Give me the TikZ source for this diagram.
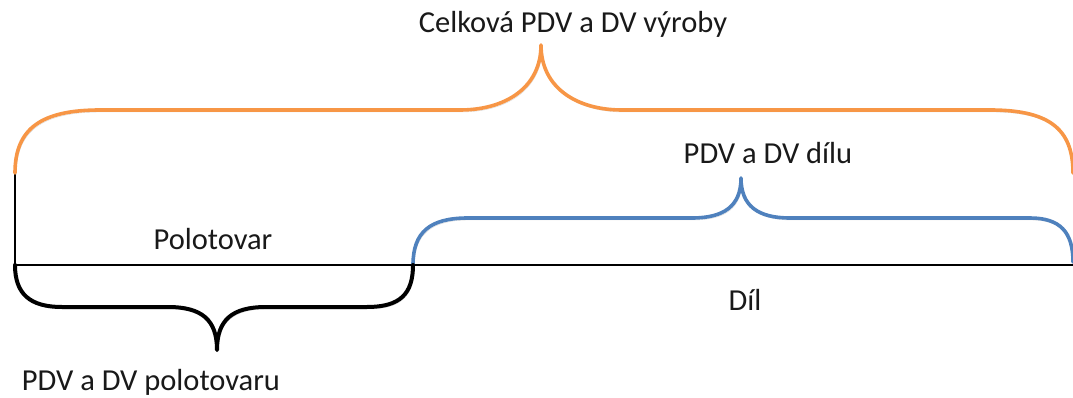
\documentclass[tikz,border=0pt]{standalone}
\usepackage{fontspec}
\setmainfont{Carlito}
\definecolor{braceorange}{HTML}{F79646}
\definecolor{braceblue}{HTML}{4F81BD}
\begin{document}
\begin{tikzpicture}[x=1pt,y=-1pt,
  shade/.style={preaction={draw=black!45,opacity=0.35,transform canvas={shift={(1.2pt,-2pt)}}}},
  brace/.style={line width=3.6pt,line cap=round,line join=round,shade},
  lbl/.style={font=\fontsize{30.5}{36}\selectfont,text=black!90,inner sep=0pt}]
\useasboundingbox (0,0) rectangle (1073,398);

% reference axis
\coordinate (a0) at (15,265);
\coordinate (a1) at (1073,265);
\coordinate (top) at (15,173);
\coordinate (mid) at (413,265);
\draw[line width=2.8pt] (a0) -- (a1);
\draw[line width=1.8pt] (top) -- (a0);

% overall brace
\draw[brace,braceorange] (top) .. controls (15,128) and (42,110) .. (100,110)
  -- (460,110) .. controls (505,110) and (541,88) .. (541,45)
  .. controls (541,88) and (577,110) .. (622,110)
  -- (990,110) .. controls (1048,110) and (1073,128) .. (1073,173);

% part brace
\draw[brace,braceblue] (mid) .. controls (413,232) and (430,218) .. (468,218)
  -- (692,218) .. controls (724,218) and (741,206) .. (741,178)
  .. controls (741,206) and (758,218) .. (790,218)
  -- (1030,218) .. controls (1060,218) and (1073,232) .. (1073,262);

% semi-product brace
\draw[brace,black,line width=4pt] (a0) .. controls (15,294) and (30,307) .. (62,307)
  -- (168,307) .. controls (202,307) and (217,320) .. (217,350)
  .. controls (217,320) and (232,307) .. (266,307)
  -- (367,307) .. controls (400,307) and (413,294) .. (mid);

% labels
\node[lbl] (t1) at (573,24) {Celková PDV a DV výroby};
\node[lbl] (t2) at (768,153) {PDV a DV dílu};
\node[lbl] (t3) at (213,239) {Polotovar};
\node[lbl] (t4) at (745,300) {Díl};
\node[lbl] (t5) at (151,382) {PDV a DV polotovaru};
\end{tikzpicture}
\end{document}
